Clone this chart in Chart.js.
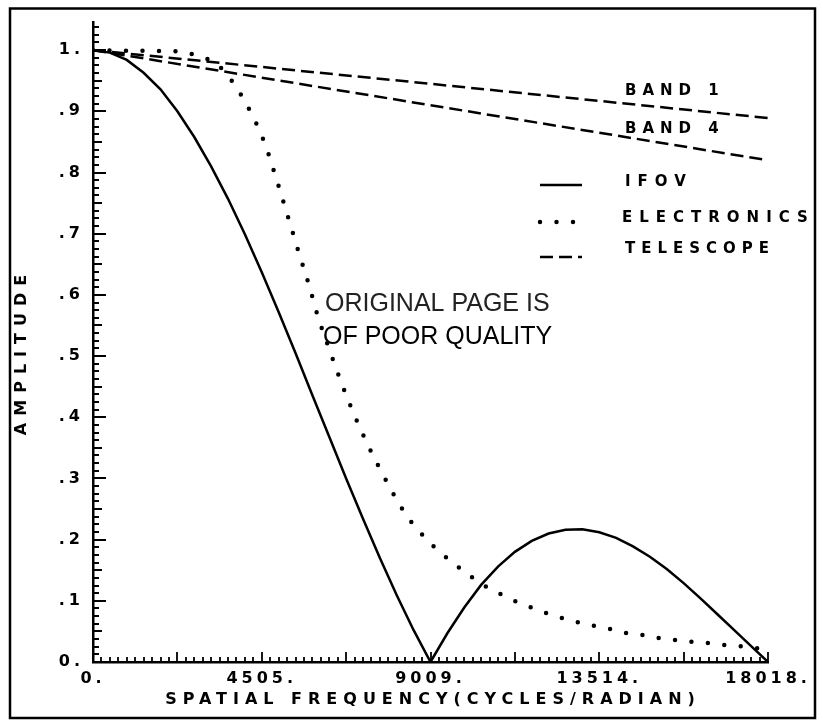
<!DOCTYPE html>
<html>
<head>
<meta charset="utf-8">
<title>Spatial frequency response</title>
<script src="https://cdn.jsdelivr.net/npm/chart.js@4.4.1/dist/chart.umd.min.js"></script>
<style>
    html, body { margin: 0; padding: 0; background: #fff; }
    canvas { display: block; }
</style>
</head>
<body>
<canvas id="mtfChart" width="823" height="721"></canvas>
<script>
// Axis ticks
const xTickValues = [0, 4504.5, 9009, 13513.5, 18018];
const xTickLabels = ['0.', '4505.', '9009.', '13514.', '18018.'];
const yTickValues = [0, 0.1, 0.2, 0.3, 0.4, 0.5, 0.6, 0.7, 0.8, 0.9, 1.0];
const yTickLabels = ['0.', '.1', '.2', '.3', '.4', '.5', '.6', '.7', '.8', '.9', '1.'];

// IFOV (solid line)
const ifovFreq = [0, 450, 901, 1351, 1802, 2252, 2703, 3153, 3604, 4054,
    4505, 4955, 5405, 5856, 6306, 6757, 7207, 7658, 8108, 8559,
    9009, 9459, 9910, 10360, 10811, 11261, 11712, 12162, 12612, 13063,
    13514, 13964, 14414, 14865, 15315, 15766, 16216, 16667, 17117, 17568, 18018];
const ifovAmp = [1.000, 0.996, 0.984, 0.963, 0.936, 0.900, 0.858, 0.810, 0.757, 0.699,
    0.637, 0.572, 0.505, 0.436, 0.368, 0.300, 0.234, 0.170, 0.109, 0.052,
    0.000, 0.047, 0.089, 0.126, 0.156, 0.180, 0.198, 0.210, 0.216, 0.217,
    0.212, 0.203, 0.189, 0.172, 0.152, 0.129, 0.104, 0.078, 0.052, 0.026, 0.000];

// Electronics (dotted line)
const elecFreq = [0, 1200, 2242, 2669, 3070, 3470, 3870, 4137, 4351, 4538,
    4698, 4831, 4965, 5232, 5499, 5766, 6006, 6326, 6620, 6967,
    7367, 7821, 8328, 8675, 9076, 9503, 9930, 10384, 10784, 11211,
    11665, 12092, 12519, 12946, 13373, 13800, 14254, 14681, 15108, 15535,
    15962, 16390, 16817, 17244, 17671, 18018];
const elecAmp = [1.000, 0.999, 0.998, 0.993, 0.985, 0.968, 0.935, 0.907, 0.881, 0.855,
    0.828, 0.802, 0.776, 0.722, 0.668, 0.616, 0.564, 0.508, 0.458, 0.405,
    0.351, 0.297, 0.243, 0.216, 0.190, 0.167, 0.147, 0.127, 0.114, 0.101,
    0.090, 0.080, 0.072, 0.065, 0.059, 0.054, 0.047, 0.044, 0.039, 0.036,
    0.033, 0.031, 0.028, 0.026, 0.023, 0.021];

// Telescope (dashed lines)
const telFreq = [0, 9009, 18018];
const band1Amp = [1.000, 0.945, 0.889];
const band4Amp = [1.000, 0.910, 0.820];

const legendLabels = ['IFOV', 'ELECTRONICS', 'TELESCOPE'];
const bandLabels = ['BAND 1', 'BAND 4'];
const xTitle = 'SPATIAL FREQUENCY(CYCLES/RADIAN)';
const yTitle = 'AMPLITUDE';
const stampLines = ['ORIGINAL PAGE IS', 'OF POOR QUALITY'];

const FONT_FAMILY = '"DejaVu Sans", sans-serif';
const LABEL_FONT = 'bold 15px ' + FONT_FAMILY;
const TITLE_FONT = 'bold 16px ' + FONT_FAMILY;
const TICK_SPACING = '4px';
const DOT_DASH = [0, 16.5];
const TEL_DASH = [13, 6];

function toPoints(xs, ys) {
    return xs.map((x, i) => ({ x: x, y: ys[i] }));
}

function spacedText(ctx, text, x, y, font, spacing, align) {
    ctx.font = font;
    ctx.letterSpacing = spacing + 'px';
    ctx.textAlign = align;
    ctx.textBaseline = 'middle';
    const shift = align === 'center' ? spacing / 2 : 0;
    ctx.fillText(text, x + shift, y);
}

// Ticks inside the axes, legend, labels, stamp and outer frame
const decorPlugin = {
    id: 'decor',
    beforeUpdate(chart) { chart.ctx.letterSpacing = TICK_SPACING; },
    beforeDraw(chart) { chart.ctx.letterSpacing = TICK_SPACING; },
    afterDraw(chart) {
        const ctx = chart.ctx;
        const xs = chart.scales.x;
        const ys = chart.scales.y;
        const left = xs.left;
        const bottom = ys.bottom;

        ctx.save();
        ctx.strokeStyle = '#000';
        ctx.fillStyle = '#000';

        // minor / major ticks
        ctx.lineWidth = 1.8;
        ctx.beginPath();
        for (let i = 0; ys.getPixelForValue(i * 0.0125) >= ys.top - 0.5; i++) {
            const py = Math.round(ys.getPixelForValue(i * 0.0125));
            const len = i % 8 === 0 ? 13 : (i % 4 === 0 ? 9 : 6);
            ctx.moveTo(left, py);
            ctx.lineTo(left + len, py);
        }
        for (let i = 0; i <= 80; i++) {
            const px = Math.round(xs.getPixelForValue(i * 225.225));
            const len = i % 10 === 0 ? 10 : 5;
            ctx.moveTo(px, bottom);
            ctx.lineTo(px, bottom - len);
        }
        ctx.stroke();

        // axis titles
        spacedText(ctx, xTitle, 430, 700, TITLE_FONT, 6, 'center');
        ctx.save();
        ctx.translate(22, 355);
        ctx.rotate(-Math.PI / 2);
        spacedText(ctx, yTitle, 0, 0, TITLE_FONT, 7, 'center');
        ctx.restore();

        // legend samples
        ctx.lineCap = 'butt';
        ctx.lineWidth = 2.5;
        ctx.setLineDash([]);
        ctx.beginPath(); ctx.moveTo(540, 185); ctx.lineTo(582, 185); ctx.stroke();
        ctx.lineCap = 'round';
        ctx.lineWidth = 4.5;
        ctx.setLineDash(DOT_DASH);
        ctx.beginPath(); ctx.moveTo(540, 222); ctx.lineTo(576, 222); ctx.stroke();
        ctx.lineCap = 'butt';
        ctx.lineWidth = 2.5;
        ctx.setLineDash(TEL_DASH);
        ctx.beginPath(); ctx.moveTo(540, 257); ctx.lineTo(582, 257); ctx.stroke();
        ctx.setLineDash([]);

        spacedText(ctx, legendLabels[0], 625, 182, LABEL_FONT, 7, 'left');
        spacedText(ctx, legendLabels[1], 622, 218, LABEL_FONT, 7, 'left');
        spacedText(ctx, legendLabels[2], 625, 249, LABEL_FONT, 6, 'left');

        // band labels above the telescope curves
        spacedText(ctx, bandLabels[0], 625, 91, LABEL_FONT, 6, 'left');
        spacedText(ctx, bandLabels[1], 625, 129, LABEL_FONT, 6, 'left');

        // stamp
        ctx.letterSpacing = '0px';
        ctx.font = '25px "Liberation Sans", Arial, sans-serif';
        ctx.textAlign = 'left';
        ctx.textBaseline = 'middle';
        ctx.fillStyle = '#222';
        ctx.fillText(stampLines[0], 325, 304);
        ctx.fillStyle = '#000';
        ctx.fillText(stampLines[1], 323, 337);

        // outer frame
        ctx.lineWidth = 2.5;
        ctx.strokeRect(10, 8.5, 805, 709.5);
        ctx.restore();
        ctx.letterSpacing = TICK_SPACING;
    }
};

const canvas = document.getElementById('mtfChart');
const ctx = canvas.getContext('2d');

const mtfChart = new Chart(ctx, {
    type: 'line',
    data: {
        datasets: [{
            label: 'IFOV',
            data: toPoints(ifovFreq, ifovAmp),
            borderColor: '#000',
            borderWidth: 2.5,
            pointRadius: 0,
            tension: 0,
            fill: false
        }, {
            label: 'ELECTRONICS',
            data: toPoints(elecFreq, elecAmp),
            borderColor: '#000',
            borderWidth: 4.5,
            borderDash: DOT_DASH,
            borderCapStyle: 'round',
            pointRadius: 0,
            cubicInterpolationMode: 'monotone',
            fill: false
        }, {
            label: 'TELESCOPE BAND 1',
            data: toPoints(telFreq, band1Amp),
            borderColor: '#000',
            borderWidth: 2.5,
            borderDash: TEL_DASH,
            pointRadius: 0,
            fill: false
        }, {
            label: 'TELESCOPE BAND 4',
            data: toPoints(telFreq, band4Amp),
            borderColor: '#000',
            borderWidth: 2.5,
            borderDash: TEL_DASH,
            pointRadius: 0,
            fill: false
        }]
    },
    options: {
        responsive: false,
        animation: false,
        devicePixelRatio: 1,
        layout: {
            padding: { left: 0, top: 22, right: 55, bottom: 0 }
        },
        plugins: {
            legend: { display: false },
            tooltip: { enabled: false }
        },
        scales: {
            x: {
                type: 'linear',
                min: 0,
                max: 18018,
                grid: { display: false, drawTicks: false },
                border: { display: true, color: '#000', width: 2.5 },
                afterBuildTicks: (scale) => {
                    scale.ticks = xTickValues.map(v => ({ value: v }));
                },
                afterFit: (scale) => { scale.height = 59; },
                ticks: {
                    autoSkip: false,
                    maxRotation: 0,
                    padding: 7,
                    color: '#000',
                    font: { family: FONT_FAMILY, weight: 'bold', size: 16 },
                    callback: (value, index) => xTickLabels[index]
                }
            },
            y: {
                type: 'linear',
                min: 0,
                max: 1.046,
                grid: { display: false, drawTicks: false },
                border: { display: true, color: '#000', width: 2.5 },
                afterBuildTicks: (scale) => {
                    scale.ticks = yTickValues.map(v => ({ value: v }));
                },
                afterFit: (scale) => { scale.width = 93; },
                ticks: {
                    autoSkip: false,
                    padding: 9,
                    color: '#000',
                    font: { family: FONT_FAMILY, weight: 'bold', size: 16 },
                    callback: (value, index) => yTickLabels[index]
                }
            }
        }
    },
    plugins: [decorPlugin]
});
</script>
</body>
</html>
